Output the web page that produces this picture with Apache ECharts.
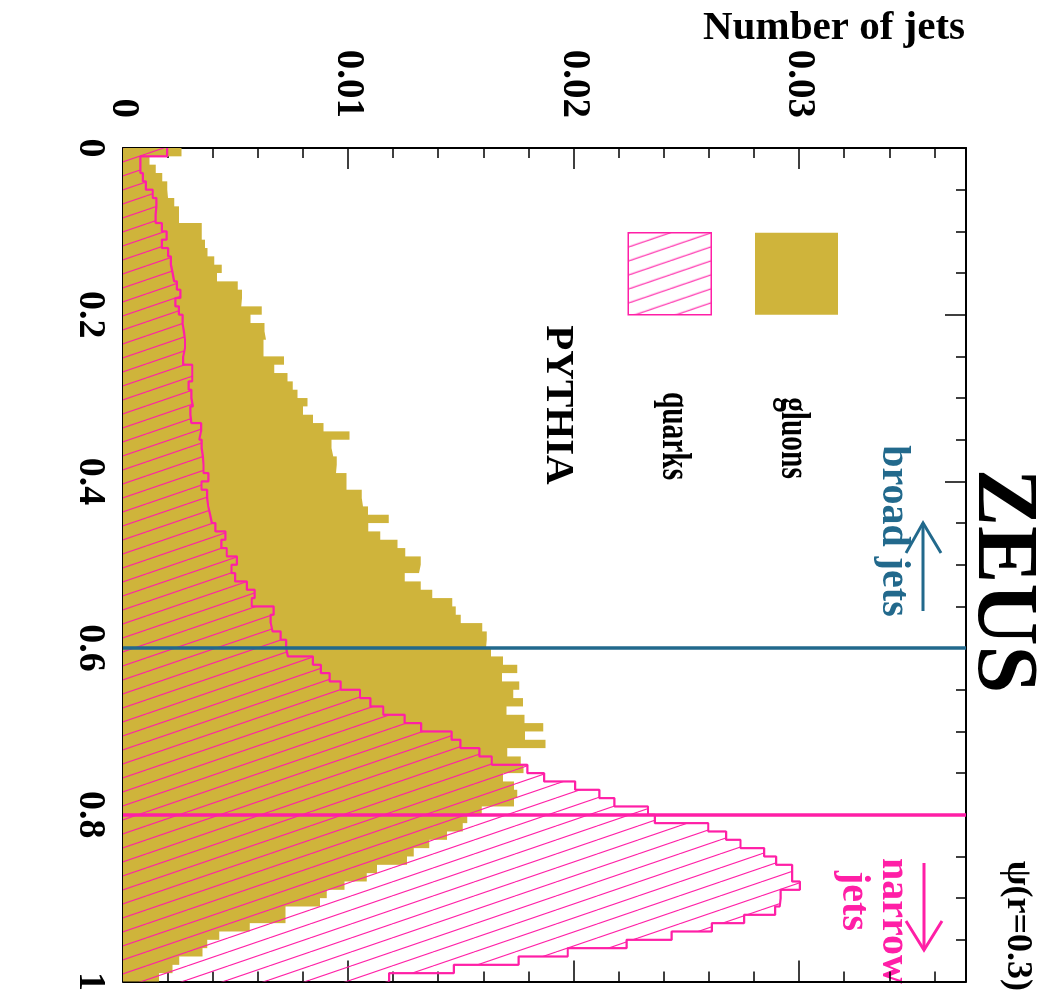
<!DOCTYPE html>
<html>
<head>
<meta charset="utf-8">
<script src="https://cdn.jsdelivr.net/npm/echarts@6.0.0/dist/echarts.min.js"></script>
<style>
html, body { margin: 0; padding: 0; background: #fff; overflow: hidden; width: 1048px; height: 994px; }
/* chart is laid out unrotated (psi along x) and turned 90deg clockwise */
#chart { position: absolute; left: 0; top: 0; width: 994px; height: 1048px; transform-origin: 0 0; transform: translate(1048px, 0) rotate(90deg); }
</style>
</head>
<body>
<div id="chart"></div>
<script>
// psi(r=0.3) histograms, 100 bins of width 0.01
const binWidth = 0.01
const gluons = [
  0.00259, 0.00117, 0.00145, 0.00174, 0.00196, 0.00200, 0.00227, 0.00248, 0.00248, 0.00349,
  0.00349, 0.00364, 0.00375, 0.00405, 0.00438, 0.00417, 0.00509, 0.00528, 0.00524, 0.00615,
  0.00565, 0.00627, 0.00634, 0.00623, 0.00623, 0.00714, 0.00671, 0.00729, 0.00753, 0.00774,
  0.00818, 0.00798, 0.00842, 0.00889, 0.01004, 0.00924, 0.00932, 0.00948, 0.00945, 0.00991,
  0.00991, 0.01059, 0.01064, 0.01086, 0.01178, 0.01087, 0.01141, 0.01217, 0.01251, 0.01320,
  0.01312, 0.01249, 0.01320, 0.01371, 0.01460, 0.01475, 0.01498, 0.01593, 0.01613, 0.01610,
  0.01632, 0.01685, 0.01748, 0.01681, 0.01757, 0.01730, 0.01774, 0.01700, 0.01780, 0.01863,
  0.01783, 0.01873, 0.01704, 0.01764, 0.01776, 0.01685, 0.01734, 0.01748, 0.01734, 0.01591,
  0.01526, 0.01506, 0.01437, 0.01358, 0.01289, 0.01259, 0.01126, 0.01081, 0.00982, 0.00903,
  0.00873, 0.00720, 0.00720, 0.00562, 0.00427, 0.00374, 0.00352, 0.00249, 0.00220, 0.00160
]
const quarks = [
  0.00196, 0.00077, 0.00077, 0.00088, 0.00101, 0.00132, 0.00148, 0.00145, 0.00145, 0.00172,
  0.00193, 0.00172, 0.00200, 0.00212, 0.00220, 0.00227, 0.00239, 0.00254, 0.00232, 0.00248,
  0.00264, 0.00270, 0.00275, 0.00275, 0.00267, 0.00267, 0.00307, 0.00307, 0.00291, 0.00303,
  0.00310, 0.00299, 0.00303, 0.00346, 0.00338, 0.00349, 0.00354, 0.00357, 0.00357, 0.00379,
  0.00348, 0.00373, 0.00378, 0.00386, 0.00394, 0.00410, 0.00454, 0.00436, 0.00460, 0.00505,
  0.00481, 0.00497, 0.00549, 0.00584, 0.00571, 0.00668, 0.00655, 0.00663, 0.00699, 0.00723,
  0.00731, 0.00842, 0.00877, 0.00916, 0.00965, 0.01051, 0.01097, 0.01154, 0.01249, 0.01322,
  0.01457, 0.01496, 0.01580, 0.01635, 0.01793, 0.01867, 0.02005, 0.02112, 0.02179, 0.02328,
  0.02358, 0.02595, 0.02674, 0.02738, 0.02843, 0.02896, 0.02967, 0.02967, 0.03001, 0.02916,
  0.02912, 0.02892, 0.02754, 0.02611, 0.02433, 0.02233, 0.01972, 0.01754, 0.01467, 0.01180
]
const cutBroad = 0.6
const cutNarrow = 0.8
const yMax = 0.03738

const gold = '#cfb43b'
const pink = '#ff1fa6'
const blue = '#22698c'
const serif = '"Liberation Serif", "Times New Roman", serif'

// [left edge, value] pairs + closing point, drawn with step:'end'
const toSteps = vals => {
  const pts = vals.map((v, i) => [+(i * binWidth).toFixed(2), v])
  pts.push([1, vals[vals.length - 1]])
  return pts
}

// diagonal hatch for the quark histogram
const hatch = document.createElement('canvas')
hatch.width = 14
hatch.height = 41
const hc = hatch.getContext('2d')
hc.strokeStyle = pink
hc.lineWidth = 1.1
;[-14, 0, 14].forEach(dx => {
  hc.beginPath()
  hc.moveTo(dx, 0)
  hc.lineTo(dx + 14, 41)
  hc.stroke()
})
const hatchFill = { image: hatch, repeat: 'repeat' }

const tickLine = { color: '#000', width: 1.5 }
const psiAxis = (pos, labels) => ({
  type: 'value', min: 0, max: 1, interval: 0.2, position: pos,
  axisLine: { onZero: false, lineStyle: { color: '#000', width: 2 } },
  axisTick: { inside: true, length: 21, lineStyle: tickLine },
  minorTick: { show: true, splitNumber: 4, length: 10, lineStyle: tickLine },
  splitLine: { show: false },
  axisLabel: { show: labels, margin: 14, color: '#000', fontFamily: serif, fontWeight: 'bold', fontSize: 38 }
})
const countAxis = (pos, labels) => ({
  type: 'value', min: 0, max: yMax, interval: 0.01, position: pos,
  axisLine: { show: true, onZero: false, lineStyle: { color: '#000', width: 2 } },
  axisTick: { inside: true, length: 21, lineStyle: tickLine },
  minorTick: { show: true, splitNumber: 5, length: 10, lineStyle: tickLine },
  splitLine: { show: false },
  axisLabel: {
    show: labels, margin: 30, color: '#000', fontFamily: serif, fontWeight: 'bold', fontSize: 39,
    showMaxLabel: false,
    formatter: v => (Math.abs(v * 100 - Math.round(v * 100)) < 1e-6 ? String(+v.toFixed(2)) : '')
  }
})

const txt = (x, y, text, size, color, extra) => Object.assign({
  type: 'text', x, y, silent: true,
  style: { text, fontSize: size, fontWeight: 'bold', fontFamily: serif, fill: color, align: 'center', verticalAlign: 'middle' }
}, extra || {})

const myChart = echarts.init(document.getElementById('chart'))

const option = {
  animation: false,
  backgroundColor: '#fff',
  grid: { left: 148, right: 4, top: 82, bottom: 123 },
  xAxis: [psiAxis('bottom', true), psiAxis('top', false)],
  yAxis: [countAxis('left', true), countAxis('right', false)],
  // legend draws the two boxes; its labels are set in condensed type below
  legend: {
    orient: 'vertical', left: 232, top: 210, padding: 0,
    itemWidth: 82, itemHeight: 83, itemGap: 43, selectedMode: false,
    formatter: () => '',
    data: [
      { name: 'gluons', icon: 'rect', itemStyle: { color: gold, borderWidth: 0, opacity: 1 } },
      { name: 'quarks', icon: 'rect', itemStyle: { color: hatchFill, borderColor: pink, borderWidth: 1.5, opacity: 1 } }
    ]
  },
  series: [
    {
      name: 'gluons',
      type: 'line',
      step: 'end',
      symbol: 'none',
      silent: true,
      z: 2,
      itemStyle: { color: gold },
      lineStyle: { width: 0 },
      areaStyle: { color: gold, opacity: 1 },
      data: toSteps(gluons)
    },
    {
      name: 'quarks',
      type: 'line',
      step: 'end',
      symbol: 'none',
      silent: true,
      z: 3,
      itemStyle: { color: pink },
      lineStyle: { color: pink, width: 2.2 },
      areaStyle: { color: hatchFill, opacity: 1 },
      data: toSteps(quarks),
      markLine: {
        silent: true,
        symbol: ['none', 'none'],
        label: { show: false },
        lineStyle: { type: 'solid', width: 3.5 },
        data: [
          { xAxis: cutBroad, lineStyle: { color: blue } },
          { xAxis: cutNarrow, lineStyle: { color: pink } }
        ]
      }
    }
  ],
  graphic: [
    txt(581, 47, 'ZEUS', 86, '#000'),
    txt(531, 155, 'broad jets', 40, blue),
    txt(921, 155, 'narrow', 40, pink),
    txt(901, 195, 'jets', 40, pink),
    txt(405, 490, 'PYTHIA', 41, '#000'),
    txt(438, 255, 'gluons', 42, '#000', { scaleX: 0.7 }),
    txt(436, 374, 'quarks', 42, '#000', { scaleX: 0.7 }),
    txt(28, 83, 'Number of jets', 41, '#000', { rotation: Math.PI / 2, style: { text: 'Number of jets', fontSize: 41, fontWeight: 'bold', fontFamily: serif, fill: '#000', align: 'right', verticalAlign: 'middle' } }),
    txt(991, 31, 'ψ(r=0.3)', 36, '#000', { style: { text: 'ψ(r=0.3)', fontSize: 36, fontWeight: 'bold', fontFamily: serif, fill: '#000', align: 'right', verticalAlign: 'middle' } }),
    // arrows
    { type: 'polyline', silent: true, shape: { points: [[611, 125], [523, 125]] }, style: { stroke: blue, lineWidth: 3, fill: null } },
    { type: 'polyline', silent: true, shape: { points: [[553, 107], [523, 125], [553, 142]] }, style: { stroke: blue, lineWidth: 3, fill: null } },
    { type: 'polyline', silent: true, shape: { points: [[863, 124], [950, 124]] }, style: { stroke: pink, lineWidth: 3, fill: null } },
    { type: 'polyline', silent: true, shape: { points: [[921, 106], [950, 124], [921, 142]] }, style: { stroke: pink, lineWidth: 3, fill: null } }
  ]
}

myChart.setOption(option)
</script>
</body>
</html>
